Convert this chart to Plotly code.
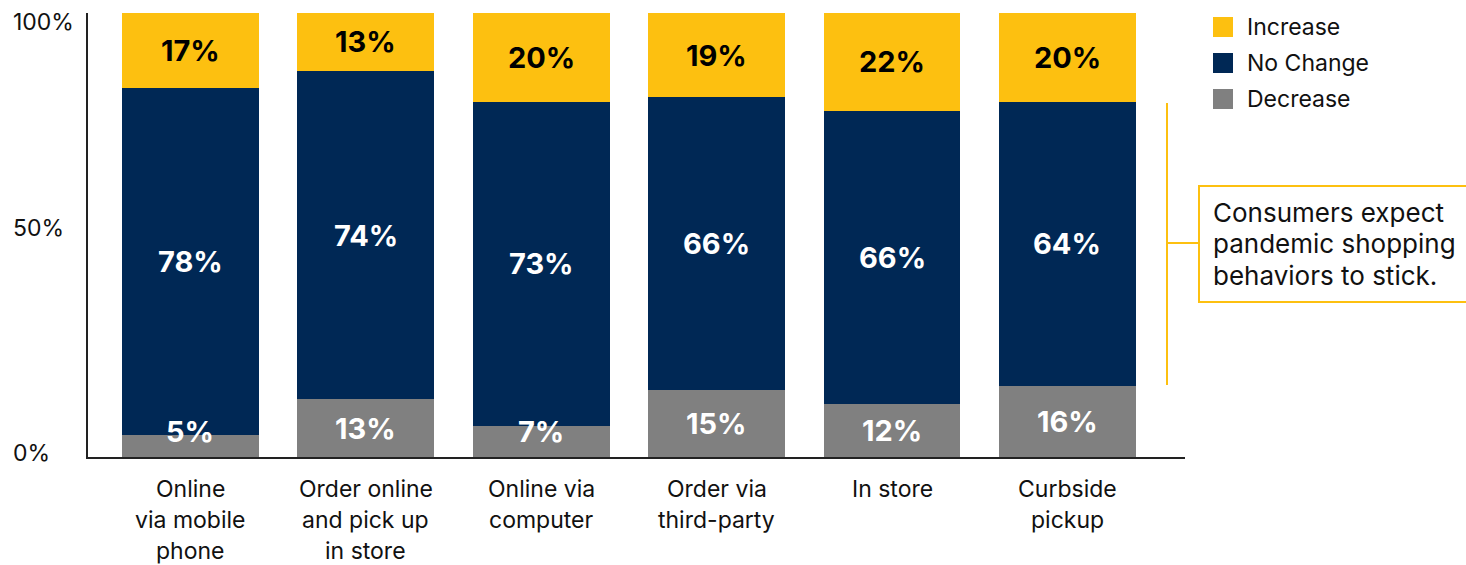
import plotly.graph_objects as go

categories = ["Online<br>via mobile<br>phone", "Order online<br>and pick up<br>in store",
              "Online via<br>computer", "Order via<br>third-party", "In store", "Curbside<br>pickup"]
decrease = [5, 13, 7, 15, 12, 16]
no_change = [78, 74, 73, 66, 66, 64]
increase = [17, 13, 20, 19, 22, 20]
series_names = ["Increase", "No Change", "Decrease"]
colors = {"Increase": "#FDC010", "No Change": "#002855", "Decrease": "#808080"}
y_ticks = [0, 50, 100]
callout = ["Consumers expect", "pandemic shopping", "behaviors to stick."]

FONT = "Inter"
x = list(range(len(categories)))

fig = go.Figure()
for name, vals in [("Decrease", decrease), ("No Change", no_change), ("Increase", increase)]:
    fig.add_trace(go.Bar(x=x, y=vals, name=name, marker_color=colors[name],
                         marker_line_width=0, width=0.78, showlegend=False, hoverinfo="skip"))

ann = []
for i in x:
    d, n, inc = decrease[i], no_change[i], increase[i]
    ann.append(dict(x=i, y=max(d / 2, 5.8), text=f"<b>{d}%</b>", showarrow=False,
                    font=dict(family=FONT, size=29, color="white")))
    ann.append(dict(x=i, y=d + n / 2, text=f"<b>{n}%</b>", showarrow=False,
                    font=dict(family=FONT, size=29, color="white")))
    ann.append(dict(x=i, y=d + n + inc / 2, text=f"<b>{inc}%</b>", showarrow=False,
                    font=dict(family=FONT, size=29, color="black")))
    for j, line in enumerate(categories[i].split("<br>")):
        ann.append(dict(x=i, xref="x", y=0, yref="paper", yanchor="middle",
                        yshift=-32 - 31 * j, text=line, showarrow=False,
                        font=dict(family=FONT, size=23, color="#111")))

# y tick labels (left aligned)
tick_shift = {0: 4, 50: 7, 100: -9}
for t in y_ticks:
    ann.append(dict(x=-77 / 1097, xref="paper", xanchor="left", y=t, yref="y",
                    yshift=tick_shift[t], text=f"{t}%", showarrow=False,
                    font=dict(family=FONT, size=23, color="#111")))

# custom legend
shapes = []
for k, name in enumerate(series_names):
    cy = 27 + 36 * k
    py = (457 - cy) / 444
    shapes.append(dict(type="rect", xref="paper", yref="paper",
                       x0=(1213 - 88) / 1097, x1=(1233 - 88) / 1097,
                       y0=py - 10 / 444, y1=py + 10 / 444,
                       fillcolor=colors[name], line_width=0))
    ann.append(dict(x=(1245 - 88) / 1097, xref="paper", xanchor="left", y=py, yref="paper",
                    yanchor="middle", text=name, showarrow=False,
                    font=dict(family=FONT, size=23, color="#111")))

# bracket + callout box
yellow = "#FDC010"
shapes.append(dict(type="line", xref="paper", yref="paper",
                   x0=(1167 - 88) / 1097, x1=(1167 - 88) / 1097,
                   y0=(457 - 385) / 444, y1=(457 - 103) / 444, line=dict(color=yellow, width=2)))
shapes.append(dict(type="line", xref="paper", yref="paper",
                   x0=(1167 - 88) / 1097, x1=(1199 - 88) / 1097,
                   y0=(457 - 243) / 444, y1=(457 - 243) / 444, line=dict(color=yellow, width=2)))
shapes.append(dict(type="rect", xref="paper", yref="paper",
                   x0=(1199 - 88) / 1097, x1=(1475 - 88) / 1097,
                   y0=(457 - 302) / 444, y1=(457 - 186) / 444,
                   line=dict(color=yellow, width=2), fillcolor="rgba(0,0,0,0)"))
for j, line in enumerate(callout):
    cy = 212 + 31.5 * j
    ann.append(dict(x=(1211 - 88) / 1097, xref="paper", xanchor="left",
                    y=(457 - cy) / 444, yref="paper", yanchor="middle",
                    text=line, showarrow=False, font=dict(family=FONT, size=26, color="#111")))

fig.update_layout(
    barmode="stack",
    width=1466, height=565,
    margin=dict(l=88, r=281, t=13, b=108),
    paper_bgcolor="white", plot_bgcolor="white",
    xaxis=dict(range=[-0.584, 5.67], showticklabels=False, ticks="", showgrid=False,
               zeroline=False, showline=True, linecolor="#222", linewidth=1.5),
    yaxis=dict(range=[0, 100], showticklabels=False, ticks="", showgrid=False,
               zeroline=False, showline=True, linecolor="#222", linewidth=1.5),
    annotations=ann, shapes=shapes,
    font=dict(family=FONT),
)
fig.write_html("out.html")
